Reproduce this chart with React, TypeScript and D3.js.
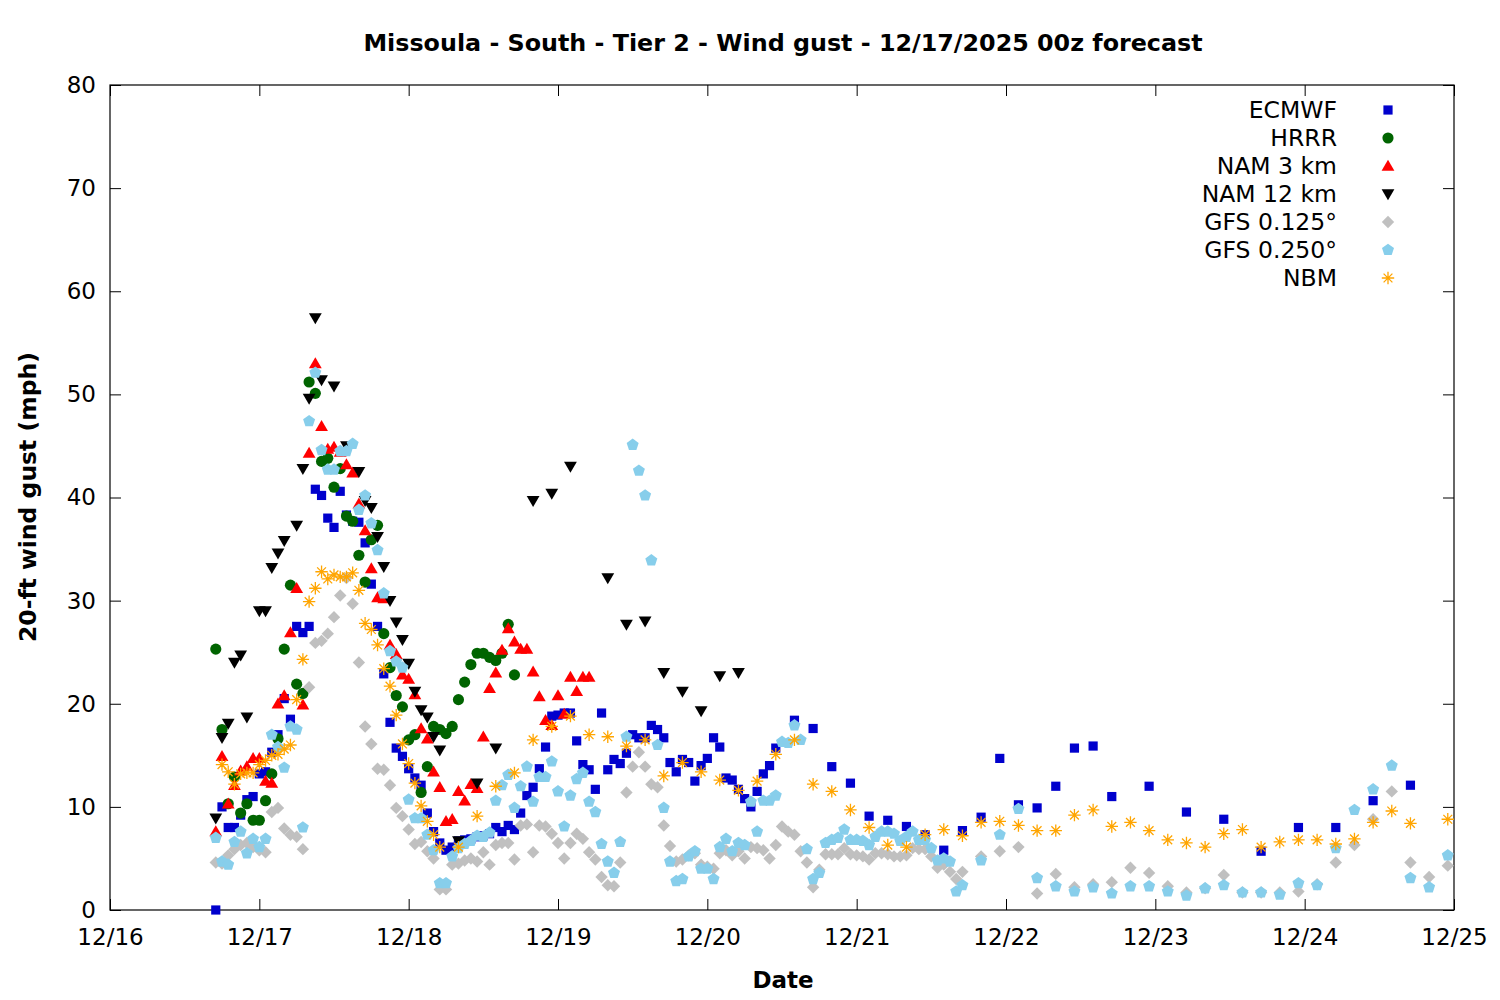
import React, { useRef, useEffect } from "react";
import * as d3 from "d3";

// forecast hour 0 = 12/17 00z = 12/16 17:00 local
const START = Date.UTC(2025, 11, 16, 17);
const DOMAIN: [Date, Date] = [new Date(Date.UTC(2025, 11, 16)), new Date(Date.UTC(2025, 11, 25))];

// ECMWF: hourly 0-90, 3-hourly 93-144, 6-hourly 150-192
const ecmwfHourly = [
  0, 10.0, 8.0, 8.0, 9.2, 10.7, 11.0, 13.2, 13.4, 15.3,
  17.0, 20.5, 18.5, 27.5, 26.9, 27.5, 40.8, 40.2, 38.0, 37.1,
  40.6, 38.3, 37.7, 37.6, 35.6, 31.6, 27.5, 22.9, 18.2, 15.7,
  14.9, 13.7, 12.8, 12.1, 9.4, 7.6, 6.5, 5.8, 6.1, 6.7,
  6.8, 6.9, 7.1, 7.2, 7.4, 8.0, 7.6, 8.2, 7.8, 9.4,
  11.1, 11.9, 13.7, 15.8, 18.8, 18.9, 19.1, 19.1, 16.4, 14.1,
  13.6, 11.7, 19.1, 13.6, 14.6, 14.2, 15.2, 17.0, 16.7, 16.7,
  17.9, 17.5, 16.7, 14.3, 13.4, 14.6, 14.3, 12.5, 14.0, 14.7,
  16.7, 15.8, 12.8, 12.6, 11.7, 10.8, 10.0, 11.5, 13.2, 14.0,
  15.7,
];
const ecmwf3h = [18.4, 17.6, 13.9, 12.3, 9.1, 8.7, 8.1, 7.3, 5.8, 7.7, 9.0, 14.7, 10.2, 9.9, 12.0, 15.7, 15.9, 11.0];
const ecmwf6h = [12.0, 9.5, 8.8, 5.7, 8.0, 8.0, 10.6, 12.1];

// HRRR: hourly 0-48
const hrrrHourly = [
  25.3, 17.5, 10.3, 12.9, 9.4, 10.3, 8.7, 8.7, 10.6, 13.2,
  16.6, 25.3, 31.5, 21.9, 21.0, 51.2, 50.1, 43.5, 43.8, 41.0,
  42.8, 38.2, 37.7, 34.4, 31.8, 35.9, 37.3, 26.8, 23.5, 20.8,
  19.7, 16.5, 17.0, 11.4, 13.9, 17.8, 17.5, 17.1, 17.8, 20.4,
  22.1, 23.8, 24.9, 24.9, 24.5, 24.2, 24.9, 27.7, 22.8,
];

// NAM 3 km: hourly 0-60
const nam3Hourly = [
  7.6, 14.9, 10.3, 12.1, 13.5, 13.9, 14.7, 14.7, 12.5, 12.3,
  20.0, 20.8, 26.9, 31.2, 19.9, 44.3, 53.0, 46.9, 44.7, 44.9,
  44.4, 43.2, 42.4, 39.4, 36.8, 33.1, 30.3, 30.2, 25.7, 24.8,
  22.8, 22.4, 20.9, 17.6, 16.6, 13.4, 11.9, 8.6, 8.8, 11.5,
  10.6, 12.2, 11.8, 16.8, 21.5, 23.0, 25.2, 27.3, 26.0, 25.3,
  25.3, 23.1, 20.7, 18.4, 17.9, 20.8, 19.0, 22.6, 21.2, 22.6,
  22.6,
];

// NAM 12 km: hourly 0-36, 3-hourly 39-84
const nam12Hourly = [
  8.9, 16.7, 18.1, 24.0, 24.7, 18.7, null, 29.0, 29.0, 33.2,
  34.6, 35.8, null, 37.3, 42.8, 49.6, 57.4, 51.4, null, 50.8,
  null, 45.0, null, 42.5, 39.7, 39.0, 36.2, 33.3, 30.0, 27.9,
  26.2, 23.9, 21.2, 19.4, 18.7, 16.8, 15.5,
];
const nam12_3h = [6.7, 12.3, 15.7, null, 39.7, 40.4, 43.0, null, 32.2, 27.7, 28.0, 23.0, 21.2, 19.3, 22.7, 23.0];

// GFS 0.125: hourly 0-120, 3-hourly 123-198
const gfs125Hourly = [
  4.6, 4.5, 5.3, 5.9, 6.3, 6.5, 6.1, 5.8, 5.6, 9.5,
  9.9, 7.9, 7.3, 7.1, 5.9, 21.6, 25.9, 26.1, 26.8, 28.4,
  30.5, 32.2, 29.7, 24.0, 17.8, 16.1, 13.7, 13.6, 12.1, 9.9,
  9.1, 7.8, 6.4, 6.6, 5.7, 5.0, 2.0, 2.0, 4.4, 4.5,
  4.8, 5.0, 4.7, 5.6, 4.4, 6.3, 6.5, 6.5, 4.9, 8.2,
  8.3, 5.6, 8.2, 8.1, 7.4, 6.5, 5.0, 6.5, 7.4, 6.9,
  5.6, 4.9, 3.2, 2.4, 2.3, 4.6, 11.4, 13.9, 15.3, 13.9,
  12.2, 11.9, 8.2, 6.2, 4.7, 4.9, 5.3, 5.5, 4.4, 4.2,
  4.0, 5.5, 5.8, 5.3, 5.7, 5.0, 6.1, 6.0, 5.8, 5.0,
  6.3, 8.1, 7.6, 7.3, 5.7, 4.6, 2.2, 3.9, 5.4, 5.4,
  5.4, 6.0, 5.4, 5.3, 5.2, 4.9, 5.5, 5.5, 5.4, 5.2,
  5.2, 5.3, 6.0, 5.9, 5.9, 5.2, 4.1, 4.4, 3.7, 3.0,
  3.7,
];
const gfs125_3h = [
  5.2, 5.7, 6.1, 1.6, 3.5, 2.2, 2.5, 2.7, 4.1, 3.6, 2.3, 1.7, 2.1,
  3.4, 1.7, 1.7, 1.7, 1.8, 2.5, 4.6, 6.3, 8.8, 11.5, 4.6, 3.2, 4.3,
];

// GFS 0.250: hourly 0-120, 3-hourly 123-198
const gfs250Hourly = [
  7.0, 4.7, 4.4, 6.6, 7.6, 5.5, 6.9, 6.1, 6.9, 17.0,
  15.8, 13.8, 17.8, 17.5, 8.0, 47.4, 52.1, 44.6, 42.7, 42.7,
  44.5, 44.5, 45.2, 38.8, 40.2, 37.5, 34.9, 30.7, 25.1, 24.1,
  23.5, 10.7, 8.9, 8.9, 7.3, 5.8, 2.6, 2.6, 5.2, 6.0,
  6.4, 6.7, 7.2, 7.1, 7.5, 10.6, 12.1, 13.1, 9.9, 12.0,
  13.9, 10.5, 12.9, 12.9, 14.4, 11.5, 8.1, 11.1, 12.7, 13.3,
  10.5, 9.5, 6.4, 4.7, 3.6, 6.6, 16.8, 45.1, 42.6, 40.2,
  33.9, 16.0, 9.9, 4.7, 2.8, 3.0, 5.2, 5.7, 4.0, 4.0,
  3.0, 6.1, 6.9, 5.7, 6.5, 6.3, 10.5, 7.6, 10.6, 10.6,
  11.1, 16.3, 16.2, 17.9, 16.5, 5.9, 3.0, 3.6, 6.5, 6.8,
  7.0, 7.8, 6.8, 6.8, 6.7, 6.3, 7.1, 7.6, 7.6, 7.4,
  6.7, 7.1, 7.6, 6.8, 6.8, 6.0, 4.8, 5.0, 4.7, 1.8,
  2.4,
];
const gfs250_3h = [
  4.8, 7.3, 9.8, 3.1, 2.3, 1.8, 2.2, 1.6, 2.3, 2.3, 1.8, 1.4, 2.1,
  2.4, 1.7, 1.7, 1.5, 2.6, 2.4, 6.0, 9.7, 11.7, 14.0, 3.1, 2.2, 5.3,
];

// NBM: hourly 1-36, 3-hourly 39-192, then 198
const nbmHourly = [
  14.1, 13.4, 12.2, 13.2, 13.3, 13.3, 14.1, 14.5, 15.0, 15.1,
  15.6, 16.0, 20.4, 24.3, 29.9, 31.2, 32.8, 32.1, 32.5, 32.3,
  32.3, 32.7, 31.0, 27.8, 27.2, 25.7, 23.4, 21.7, 18.9, 16.1,
  14.2, 12.3, 10.1, 8.6, 7.3, 6.1,
];
const nbm3h = [
  6.1, 9.1, 12.0, 13.3, 16.5, 17.8, 18.8, 17.0, 16.8, 15.9,
  16.5, 13.0, 14.3, 13.4, 12.6, 11.6, 12.5, 15.1, 16.5, 12.2,
  11.5, 9.7, 8.0, 6.3, 6.1, 7.3, 7.8, 7.2, 8.5, 8.6,
  8.2, 7.7, 7.7, 9.2, 9.7, 8.1, 8.5, 7.7, 6.8, 6.5,
  6.1, 7.4, 7.8, 6.1, 6.6, 6.8, 6.8, 6.4, 6.9, 8.5,
  9.6, 8.4,
];
const nbm6h = [8.8];

const yTicks = [0, 10, 20, 30, 40, 50, 60, 70, 80];

type Segment = { start: number; step: number; values: (number | null)[] };
type Series = { name: string; color: string; marker: string; segments: Segment[] };

const SERIES: Series[] = [
  { name: "ECMWF", color: "#0000cd", marker: "square", segments: [
    { start: 0, step: 1, values: ecmwfHourly },
    { start: 93, step: 3, values: ecmwf3h },
    { start: 150, step: 6, values: ecmwf6h },
  ] },
  { name: "HRRR", color: "#006400", marker: "circle", segments: [{ start: 0, step: 1, values: hrrrHourly }] },
  { name: "NAM 3 km", color: "#ff0000", marker: "triangleUp", segments: [{ start: 0, step: 1, values: nam3Hourly }] },
  { name: "NAM 12 km", color: "#000000", marker: "triangleDown", segments: [
    { start: 0, step: 1, values: nam12Hourly },
    { start: 39, step: 3, values: nam12_3h },
  ] },
  { name: "GFS 0.125°", color: "#c0c0c0", marker: "diamond", segments: [
    { start: 0, step: 1, values: gfs125Hourly },
    { start: 123, step: 3, values: gfs125_3h },
  ] },
  { name: "GFS 0.250°", color: "#87ceeb", marker: "pentagon", segments: [
    { start: 0, step: 1, values: gfs250Hourly },
    { start: 123, step: 3, values: gfs250_3h },
  ] },
  { name: "NBM", color: "#ffa500", marker: "asterisk", segments: [
    { start: 1, step: 1, values: nbmHourly },
    { start: 39, step: 3, values: nbm3h },
    { start: 198, step: 6, values: nbm6h },
  ] },
];

function pentagonPath(r: number) {
  const pts = d3.range(5).map((i) => {
    const a = -Math.PI / 2 + (i * 2 * Math.PI) / 5;
    return [r * Math.cos(a), r * Math.sin(a)];
  });
  return "M" + pts.map((p) => p.join(",")).join("L") + "Z";
}

const MARKERS: Record<string, { d: string; stroke: boolean }> = {
  square: { d: "M-4.6,-4.6h9.2v9.2h-9.2Z", stroke: false },
  circle: { d: d3.symbol(d3.symbolCircle, 98)() as string, stroke: false },
  triangleUp: { d: "M0,-6.3L6.4,4.7L-6.4,4.7Z", stroke: false },
  triangleDown: { d: "M0,6.3L6.4,-4.7L-6.4,-4.7Z", stroke: false },
  diamond: { d: "M0,-6.2L6.2,0L0,6.2L-6.2,0Z", stroke: false },
  pentagon: { d: pentagonPath(6.3), stroke: false },
  asterisk: { d: "M-6.2,0H6.2M0,-6.2V6.2M-4.4,-4.4L4.4,4.4M-4.4,4.4L4.4,-4.4", stroke: true },
};

const FONT = "'DejaVu Sans', sans-serif";

function drawChart(svgEl: SVGSVGElement) {
  const margin = { top: 85, right: 46, bottom: 90, left: 110 };
  const W = 1500;
  const H = 1000;
  const innerW = W - margin.left - margin.right;
  const innerH = H - margin.top - margin.bottom;

  const svg = d3.select(svgEl);
  svg.selectAll("*").remove();
  svg.append("rect").attr("width", W).attr("height", H).attr("fill", "#fff");

  const g = svg.append("g").attr("transform", `translate(${margin.left},${margin.top})`);

  const x = d3.scaleUtc().domain(DOMAIN).range([0, innerW]);
  const y = d3.scaleLinear().domain([0, 80]).range([innerH, 0]);
  const dayTicks = d3.utcDay.range(DOMAIN[0], new Date(+DOMAIN[1] + 1));

  // axes with inward ticks on all four sides
  const bottom = g.append("g").attr("transform", `translate(0,${innerH})`)
    .call(d3.axisBottom(x).tickValues(dayTicks).tickFormat(d3.utcFormat("%m/%d") as any)
      .tickSizeInner(-11).tickSizeOuter(0).tickPadding(19));
  const left = g.append("g")
    .call(d3.axisLeft(y).tickValues(yTicks).tickSizeInner(-11).tickSizeOuter(0).tickPadding(14));
  const top = g.append("g")
    .call(d3.axisTop(x).tickValues(dayTicks).tickFormat(() => "").tickSizeInner(-11).tickSizeOuter(0));
  const right = g.append("g").attr("transform", `translate(${innerW},0)`)
    .call(d3.axisRight(y).tickValues(yTicks).tickFormat(() => "").tickSizeInner(-11).tickSizeOuter(0));
  [bottom, left, top, right].forEach((a) => {
    a.select(".domain").remove();
    a.selectAll("line").attr("stroke", "#000").attr("stroke-width", 1);
    a.selectAll("text").attr("font-family", FONT).attr("font-size", 23).attr("fill", "#000");
  });

  g.append("rect").attr("width", innerW).attr("height", innerH)
    .attr("fill", "none").attr("stroke", "#000").attr("stroke-width", 1.2);

  // data points, drawn in legend order
  const plot = g.append("g");
  SERIES.forEach((s) => {
    const pts: { h: number; v: number }[] = [];
    s.segments.forEach((seg) => {
      seg.values.forEach((v, i) => {
        if (v != null) pts.push({ h: seg.start + i * seg.step, v });
      });
    });
    const m = MARKERS[s.marker];
    plot.append("g").selectAll("path").data(pts).enter().append("path")
      .attr("transform", (d) => `translate(${x(new Date(START + d.h * 3600e3))},${y(d.v)})`)
      .attr("d", m.d)
      .attr("fill", m.stroke ? "none" : s.color)
      .attr("stroke", m.stroke ? s.color : "none")
      .attr("stroke-width", 1.3);
  });

  // legend
  const legend = svg.append("g");
  SERIES.forEach((s, i) => {
    const ly = 110 + i * 28;
    const m = MARKERS[s.marker];
    legend.append("text").attr("x", 1337).attr("y", ly).attr("dy", "0.36em")
      .attr("text-anchor", "end").attr("font-family", FONT).attr("font-size", 23.5)
      .text(s.name);
    legend.append("path").attr("transform", `translate(1388,${ly})`).attr("d", m.d)
      .attr("fill", m.stroke ? "none" : s.color)
      .attr("stroke", m.stroke ? s.color : "none").attr("stroke-width", 1.3);
  });

  // titles
  svg.append("text").attr("x", 783).attr("y", 51).attr("text-anchor", "middle")
    .attr("font-family", FONT).attr("font-size", 23.8).attr("font-weight", "bold")
    .text("Missoula - South - Tier 2 - Wind gust - 12/17/2025 00z forecast");
  svg.append("text").attr("x", 783).attr("y", 988).attr("text-anchor", "middle")
    .attr("font-family", FONT).attr("font-size", 23).attr("font-weight", "bold")
    .text("Date");
  svg.append("text").attr("transform", "translate(36,497) rotate(-90)").attr("text-anchor", "middle")
    .attr("font-family", FONT).attr("font-size", 23.5).attr("font-weight", "bold")
    .text("20-ft wind gust (mph)");
}

export default function App() {
  const ref = useRef<SVGSVGElement>(null);
  useEffect(() => {
    document.body.style.margin = "0";
    if (ref.current == null) return;
    drawChart(ref.current);
  }, []);
  return <svg ref={ref} width={1500} height={1000} style={{ display: "block" }}></svg>;
}
